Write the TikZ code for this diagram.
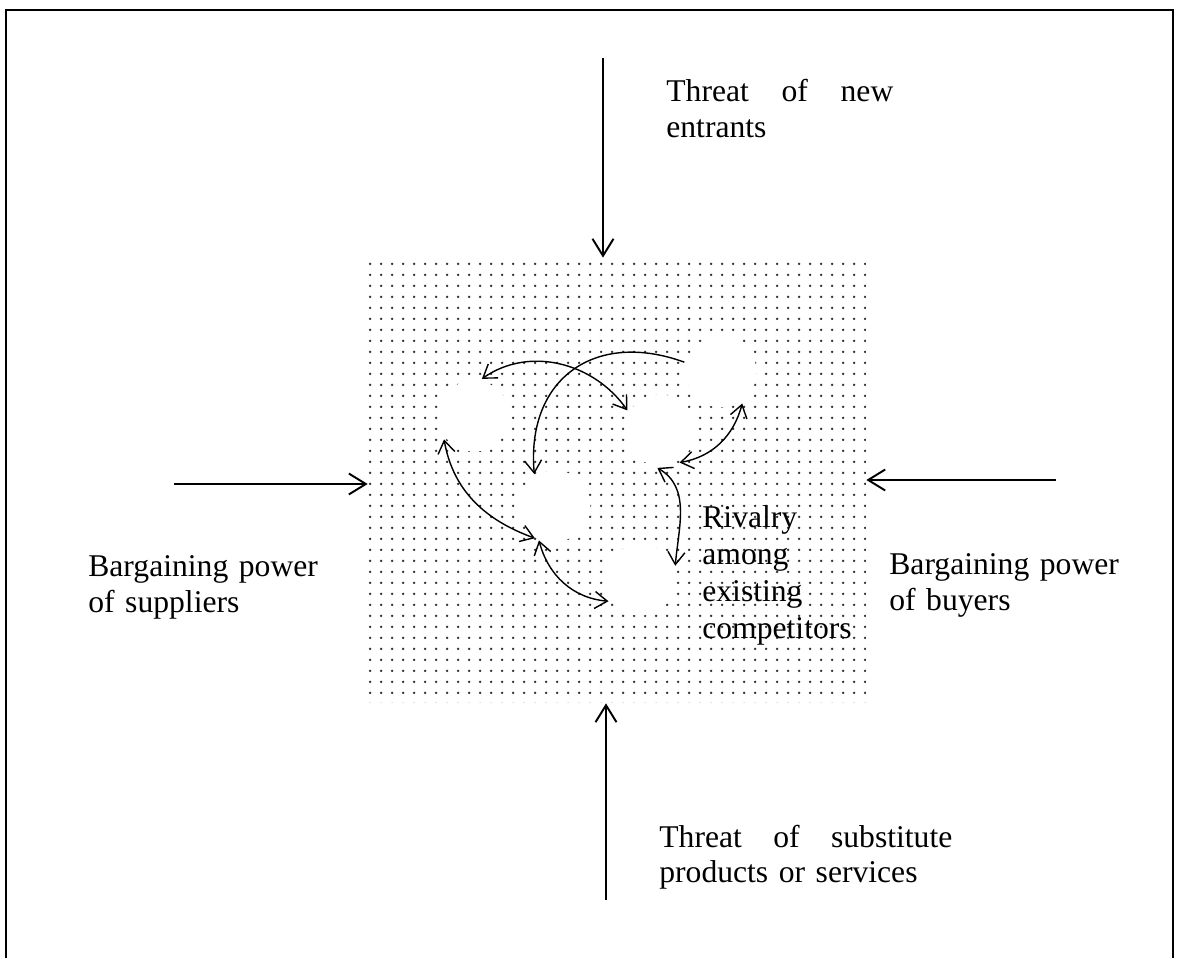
\documentclass[tikz,border=0pt]{standalone}
\usepackage{fontspec}
\setmainfont{Liberation Serif}
\usetikzlibrary{arrows.meta, patterns.meta}

\begin{document}
\begin{tikzpicture}[
    font=\fontsize{18}{20}\selectfont,
    market/.style={rectangle, draw=none, inner sep=0pt,
                   pattern={Dots[distance=2.12mm, radius=0.27mm]}, pattern color=black!80,
                   minimum width=9.96cm, minimum height=8.9cm},
    firm/.style={circle, fill=white, draw=none, minimum size=1.42cm, inner sep=0pt, outer sep=0.05cm},
    forcetext/.style={anchor=base west, align=left, inner sep=0pt},
    force/.style={-{Straight Barb[length=0.34cm,width=0.42cm]}, line width=1.1pt},
    twoway/.style={{Straight Barb[length=0.25cm,width=0.34cm]}-{Straight Barb[length=0.25cm,width=0.34cm]}, line width=0.8pt},
    oneway/.style={-{Straight Barb[length=0.25cm,width=0.34cm]}, line width=0.8pt}
]
\useasboundingbox (0,0) rectangle (23.58,19.16);

% Frame
\draw[line width=1.1pt] (0.12,0) -- (0.12,18.96) -- (23.46,18.96) -- (23.46,0);

% Industry
\node[market] (market) at (12.34,9.55) {};

% Competitors
\node[firm] (c1) at (9.48,10.84) {};
\node[firm] (c2) at (13.20,10.56) {};
\node[firm] (c3) at (14.42,11.72) {};
\node[firm] (c4) at (11.10,9.04) {};
\node[firm] (c5) at (12.80,7.56) {};

\node[forcetext, text width=4cm, font=\fontsize{18}{21}\selectfont] (rivalry) at (14.04,8.6) {Rivalry\\among\\existing\\competitors};

% Rivalry arrows
\draw[twoway] (c1.78) to[out=35, in=125] (c2.149);
\draw[oneway] (c3.165) to[out=160, in=95, looseness=1.3] (c4.123);
\draw[twoway] (c1.218) to[out=-80, in=160] (c4.238);
\draw[twoway] (c4.245) to[out=-75, in=175] (c5.214);
\draw[twoway] (c3.304) to[out=-105, in=10] (c2.301);
\draw[twoway] (c2.266) to[out=-30, in=85] (c5.22);

% Forces
\node[forcetext, text width=4.54cm] (entrants) at (13.32,17.12) {Threat \hfill of \hfill new\\entrants};
\node[forcetext, text width=5.86cm] (substitutes) at (13.18,2.22) {Threat \hfill of \hfill substitute\\products or services};
\node[forcetext, text width=5cm] (suppliers) at (1.76,7.62) {Bargaining power\\of suppliers};
\node[forcetext, text width=5cm] (buyers) at (17.78,7.66) {Bargaining power\\of buyers};

\coordinate (newin) at (12.06,18.00);
\coordinate (subin) at (12.12,1.16);
\coordinate (supin) at (3.48,9.48);
\coordinate (buyin) at (21.12,9.56);

\draw[force] (newin) -- (newin |- market.north);
\draw[force] (subin) -- (subin |- market.south);
\draw[force] (supin) -- (supin -| market.west);
\draw[force] (buyin) -- (buyin -| market.east);

\end{tikzpicture}
\end{document}
